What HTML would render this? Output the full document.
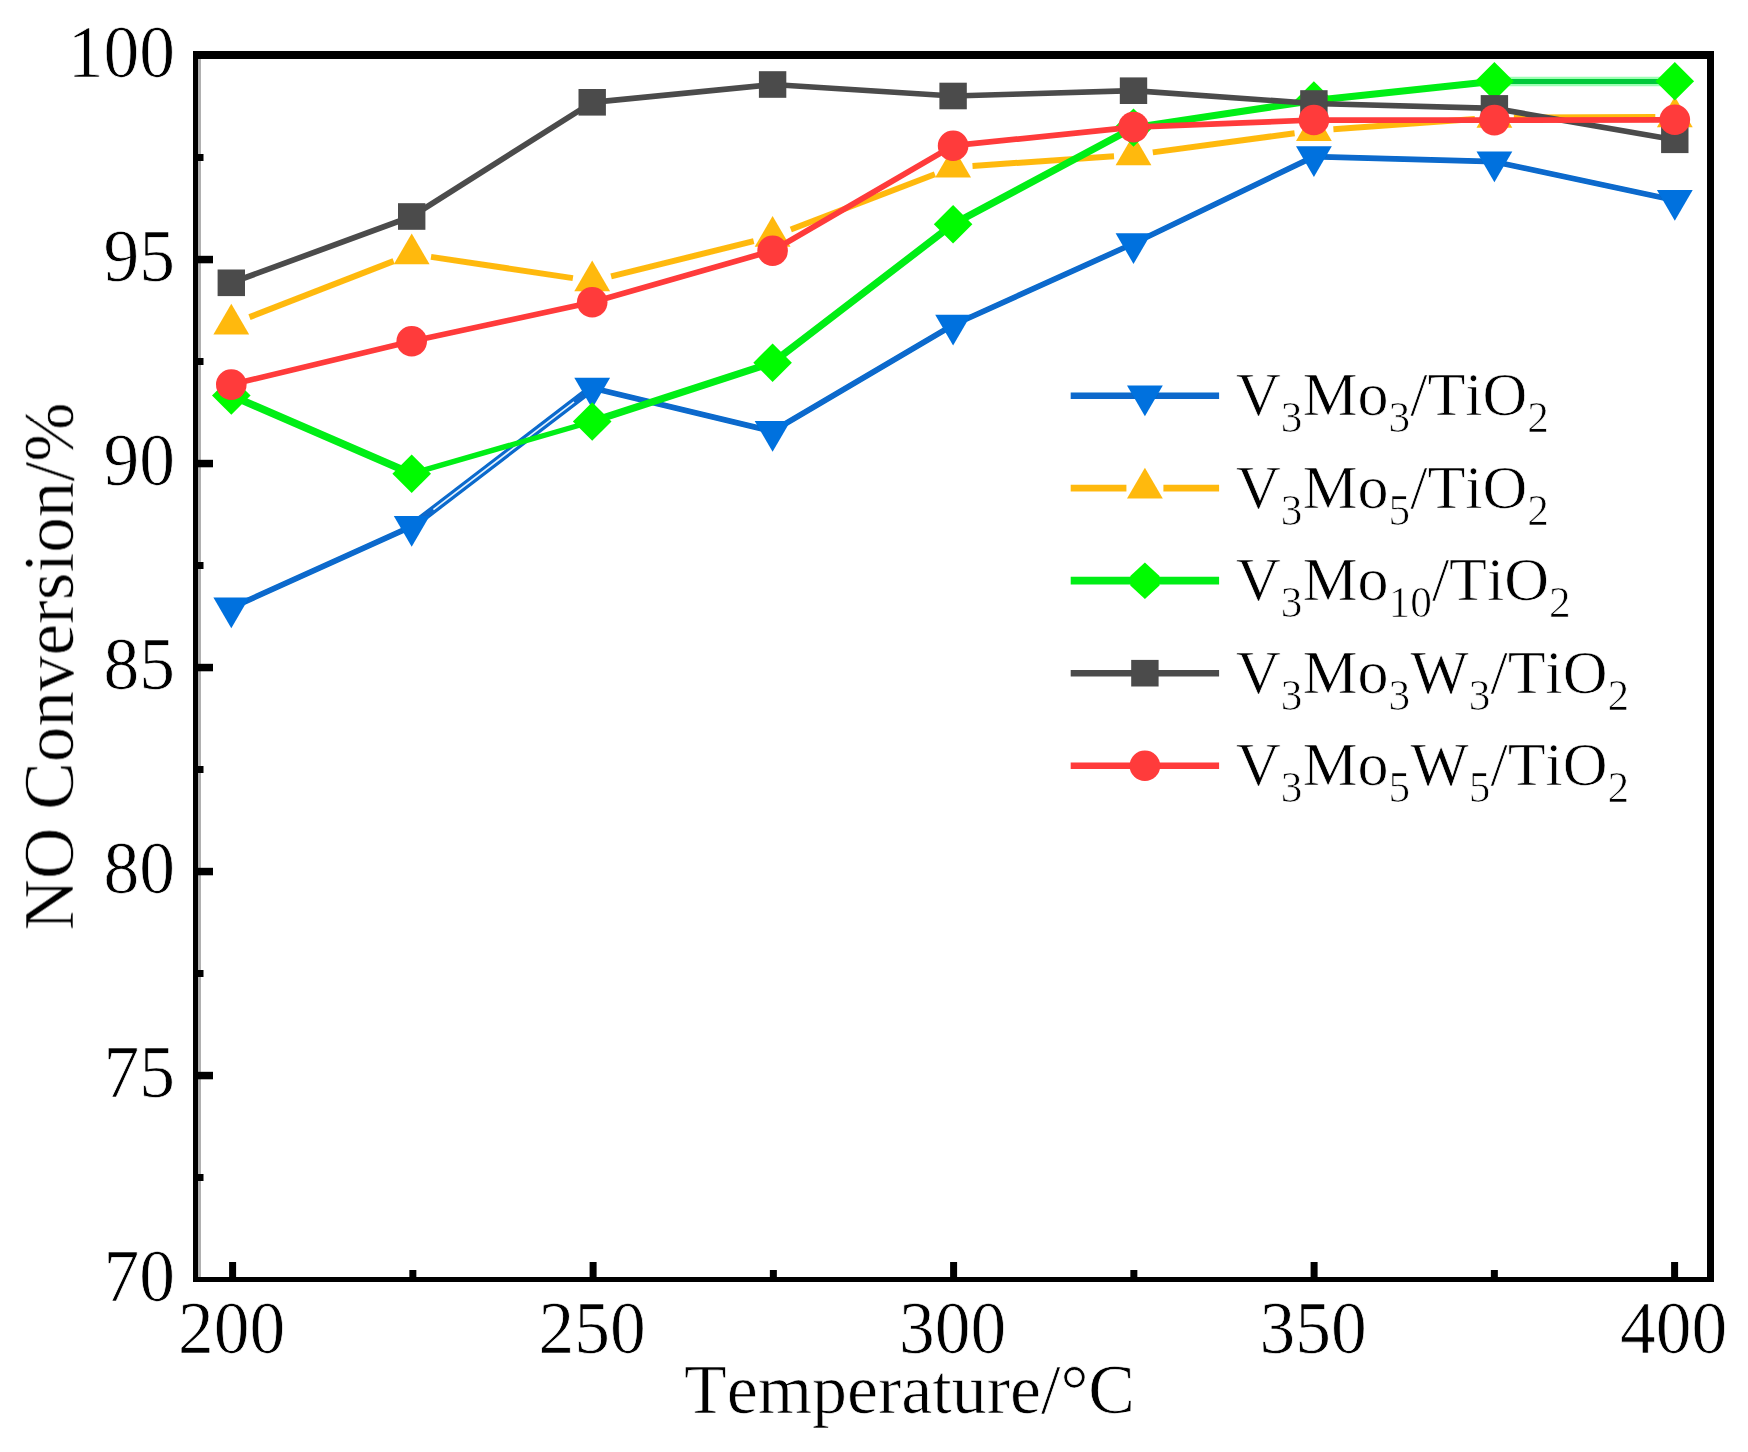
<!DOCTYPE html>
<html><head><meta charset="utf-8"><title>NO Conversion vs Temperature</title>
<style>
html,body{margin:0;padding:0;background:#fff;}
body{width:1748px;height:1452px;overflow:hidden;}
svg{display:block;}
text{font-family:"Liberation Serif","Times New Roman",serif;fill:#000;stroke:#fff;stroke-width:0.7px;font-kerning:none;font-variant-ligatures:none;}
.tk{font-size:71.5px;}
.lg{font-size:62px;}
.sb{font-size:43.3px;}
</style></head><body>
<svg width="1748" height="1452" viewBox="0 0 1748 1452">
<rect width="1748" height="1452" fill="#fff"/>
<defs><filter id="soft" x="-2%" y="-2%" width="104%" height="104%"><feGaussianBlur stdDeviation="0.7"/></filter><filter id="softt" x="-2%" y="-2%" width="104%" height="104%"><feGaussianBlur stdDeviation="0.45"/></filter></defs>
<g id="series" filter="url(#soft)">
<g class="blue">
<polyline points="231.3,607.8 411.7,526.3 592.2,388.0 772.6,431.3 953.1,325.0 1133.5,243.5 1313.9,156.6 1494.4,161.7 1674.8,200.2" fill="none" stroke="#0769cc" stroke-width="5.7" stroke-linejoin="round"/>
<line x1="411.7" y1="526.3" x2="592.2" y2="388.0" stroke="#0769cc" stroke-width="8"/>
<line x1="433.4" y1="509.7" x2="574.1" y2="401.8" stroke="#e4f3ff" stroke-width="1.7"/>
<polygon points="213.4,597.5 249.2,597.5 231.3,628.3" fill="#0571de"/>
<polygon points="393.8,516.0 429.6,516.0 411.7,546.8" fill="#0571de"/>
<polygon points="574.3,377.7 610.1,377.7 592.2,408.5" fill="#0571de"/>
<polygon points="754.7,421.0 790.5,421.0 772.6,451.8" fill="#0571de"/>
<polygon points="935.2,314.7 971.0,314.7 953.1,345.5" fill="#0571de"/>
<polygon points="1115.6,233.2 1151.4,233.2 1133.5,264.0" fill="#0571de"/>
<polygon points="1296.0,146.3 1331.8,146.3 1313.9,177.1" fill="#0571de"/>
<polygon points="1476.5,151.4 1512.3,151.4 1494.4,182.2" fill="#0571de"/>
<polygon points="1656.9,189.9 1692.7,189.9 1674.8,220.7" fill="#0571de"/>
</g>
<g class="yellow">
<line x1="249.5" y1="317.1" x2="393.6" y2="261.1" stroke="#ffb90f" stroke-width="6.0"/>
<line x1="431.0" y1="256.9" x2="572.9" y2="278.1" stroke="#ffb90f" stroke-width="6.0"/>
<line x1="611.1" y1="276.3" x2="753.7" y2="241.2" stroke="#ffb90f" stroke-width="6.0"/>
<line x1="790.8" y1="229.5" x2="934.9" y2="174.2" stroke="#ffb90f" stroke-width="6.0"/>
<line x1="972.5" y1="165.9" x2="1114.0" y2="156.3" stroke="#ffb90f" stroke-width="6.0"/>
<line x1="1152.8" y1="152.4" x2="1294.6" y2="133.2" stroke="#ffb90f" stroke-width="6.0"/>
<line x1="1333.4" y1="129.2" x2="1474.9" y2="118.9" stroke="#ffb90f" stroke-width="6.0"/>
<line x1="1513.9" y1="117.4" x2="1655.3" y2="117.1" stroke="#ffb90f" stroke-width="6.0"/>
<polygon points="213.4,334.5 249.2,334.5 231.3,303.7" fill="#ffb90f"/>
<polygon points="393.8,264.3 429.6,264.3 411.7,233.5" fill="#ffb90f"/>
<polygon points="574.3,291.3 610.1,291.3 592.2,260.5" fill="#ffb90f"/>
<polygon points="754.7,246.8 790.5,246.8 772.6,216.0" fill="#ffb90f"/>
<polygon points="935.2,177.5 971.0,177.5 953.1,146.7" fill="#ffb90f"/>
<polygon points="1115.6,165.3 1151.4,165.3 1133.5,134.5" fill="#ffb90f"/>
<polygon points="1296.0,140.9 1331.8,140.9 1313.9,110.1" fill="#ffb90f"/>
<polygon points="1476.5,127.8 1512.3,127.8 1494.4,97.0" fill="#ffb90f"/>
<polygon points="1656.9,127.3 1692.7,127.3 1674.8,96.5" fill="#ffb90f"/>
</g>
<g class="green">
<line x1="231.3" y1="395.6" x2="411.7" y2="473.7" stroke="#00ee14" stroke-width="7.5" stroke-linecap="round"/>
<line x1="411.7" y1="473.7" x2="592.2" y2="421.5" stroke="#00ee14" stroke-width="5.4" stroke-linecap="round"/>
<line x1="592.2" y1="421.5" x2="772.6" y2="362.7" stroke="#00ee14" stroke-width="7.2" stroke-linecap="round"/>
<line x1="772.6" y1="362.7" x2="953.1" y2="224.2" stroke="#00ee14" stroke-width="7.2" stroke-linecap="round"/>
<line x1="953.1" y1="224.2" x2="1133.5" y2="127.6" stroke="#00ee14" stroke-width="7.2" stroke-linecap="round"/>
<line x1="1133.5" y1="127.6" x2="1313.9" y2="100.5" stroke="#00ee14" stroke-width="7.0" stroke-linecap="round"/>
<line x1="1313.9" y1="100.5" x2="1494.4" y2="81.2" stroke="#00ee14" stroke-width="7.0" stroke-linecap="round"/>
<line x1="1494.4" y1="81.5" x2="1674.8" y2="81.5" stroke="#9dffb4" stroke-width="9.6"/>
<line x1="1494.4" y1="81.5" x2="1674.8" y2="81.5" stroke="#00c93a" stroke-width="5.2"/>
<polygon points="212.0,395.6 231.3,376.4 250.6,395.6 231.3,414.8" fill="#00fb05"/>
<polygon points="392.4,473.7 411.7,454.5 431.0,473.7 411.7,492.9" fill="#00fb05"/>
<polygon points="572.9,421.5 592.2,402.3 611.5,421.5 592.2,440.7" fill="#00fb05"/>
<polygon points="753.3,362.7 772.6,343.5 791.9,362.7 772.6,381.9" fill="#00fb05"/>
<polygon points="933.8,224.2 953.1,205.0 972.4,224.2 953.1,243.4" fill="#00fb05"/>
<polygon points="1114.2,127.6 1133.5,108.4 1152.8,127.6 1133.5,146.8" fill="#00fb05"/>
<polygon points="1294.6,100.5 1313.9,81.3 1333.2,100.5 1313.9,119.7" fill="#00fb05"/>
<polygon points="1475.1,81.2 1494.4,62.0 1513.7,81.2 1494.4,100.4" fill="#00fb05"/>
<polygon points="1655.5,81.2 1674.8,62.0 1694.1,81.2 1674.8,100.4" fill="#00fb05"/>
</g>
<g class="dark">
<polyline points="231.3,282.8 411.7,216.5 592.2,102.3 772.6,84.5 953.1,96.0 1133.5,90.7 1313.9,103.5 1494.4,108.4 1674.8,139.8" fill="none" stroke="#4b4b4b" stroke-width="5.7" stroke-linejoin="round"/>
<rect x="217.6" y="269.5" width="27.4" height="26.6" fill="#4b4b4b"/>
<rect x="398.0" y="203.2" width="27.4" height="26.6" fill="#4b4b4b"/>
<rect x="578.5" y="89.0" width="27.4" height="26.6" fill="#4b4b4b"/>
<rect x="758.9" y="71.2" width="27.4" height="26.6" fill="#4b4b4b"/>
<rect x="939.4" y="82.7" width="27.4" height="26.6" fill="#4b4b4b"/>
<rect x="1119.8" y="77.4" width="27.4" height="26.6" fill="#4b4b4b"/>
<rect x="1300.2" y="90.2" width="27.4" height="26.6" fill="#4b4b4b"/>
<rect x="1480.7" y="95.1" width="27.4" height="26.6" fill="#4b4b4b"/>
<rect x="1661.1" y="126.5" width="27.4" height="26.6" fill="#4b4b4b"/>
</g>
<g class="red">
<polyline points="231.3,384.6 411.7,341.2 592.2,302.3 772.6,250.7 953.1,145.7 1133.5,127.1 1313.9,120.0 1494.4,120.1 1674.8,119.8" fill="none" stroke="#ff3a3a" stroke-width="5.7" stroke-linejoin="round"/>
<circle cx="231.3" cy="384.6" r="15.3" fill="#ff3a3a"/>
<circle cx="411.7" cy="341.2" r="15.3" fill="#ff3a3a"/>
<circle cx="592.2" cy="302.3" r="15.3" fill="#ff3a3a"/>
<circle cx="772.6" cy="250.7" r="15.3" fill="#ff3a3a"/>
<circle cx="953.1" cy="145.7" r="15.3" fill="#ff3a3a"/>
<circle cx="1133.5" cy="127.1" r="15.3" fill="#ff3a3a"/>
<circle cx="1313.9" cy="120.0" r="15.3" fill="#ff3a3a"/>
<circle cx="1494.4" cy="120.1" r="15.3" fill="#ff3a3a"/>
<circle cx="1674.8" cy="119.8" r="15.3" fill="#ff3a3a"/>
</g>
</g>
<g id="axes" fill="#000">
<rect x="193" y="51" width="1521" height="8"/>
<rect x="193" y="1277" width="1521" height="5"/>
<rect x="193" y="51" width="5" height="1231"/>
<rect x="198" y="59" width="3" height="1218" fill="#b0b0b0"/>
<rect x="1707" y="51" width="7" height="1231"/>
<rect x="198" y="255.8" width="15" height="7.5"/>
<rect x="198" y="459.8" width="15" height="7.5"/>
<rect x="198" y="663.8" width="15" height="7.5"/>
<rect x="198" y="867.8" width="15" height="7.5"/>
<rect x="198" y="1071.8" width="15" height="7.5"/>
<rect x="198" y="154.0" width="5.5" height="7"/>
<rect x="198" y="358.0" width="5.5" height="7"/>
<rect x="198" y="562.0" width="5.5" height="7"/>
<rect x="198" y="766.0" width="5.5" height="7"/>
<rect x="198" y="970.0" width="5.5" height="7"/>
<rect x="198" y="1174.0" width="5.5" height="7"/>
<rect x="229.10" y="1262" width="7" height="16"/>
<rect x="589.60" y="1262" width="7" height="16"/>
<rect x="950.10" y="1262" width="7" height="16"/>
<rect x="1310.60" y="1262" width="7" height="16"/>
<rect x="1671.10" y="1262" width="7" height="16"/>
<rect x="409.35" y="1270" width="7" height="8"/>
<rect x="769.85" y="1270" width="7" height="8"/>
<rect x="1130.35" y="1270" width="7" height="8"/>
<rect x="1490.85" y="1270" width="7" height="8"/>
</g>
<g id="ticklabels" class="tk" filter="url(#softt)">
<text transform="translate(175,76.8) scale(1,1.035)" text-anchor="end">100</text>
<text transform="translate(175,280.8) scale(1,1.035)" text-anchor="end">95</text>
<text transform="translate(175,484.8) scale(1,1.035)" text-anchor="end">90</text>
<text transform="translate(175,688.8) scale(1,1.035)" text-anchor="end">85</text>
<text transform="translate(175,892.8) scale(1,1.035)" text-anchor="end">80</text>
<text transform="translate(175,1096.8) scale(1,1.035)" text-anchor="end">75</text>
<text transform="translate(175,1300.8) scale(1,1.035)" text-anchor="end">70</text>
<text transform="translate(231.6,1353.4) scale(1,1.035)" text-anchor="middle">200</text>
<text transform="translate(592.1,1353.4) scale(1,1.035)" text-anchor="middle">250</text>
<text transform="translate(952.6,1353.4) scale(1,1.035)" text-anchor="middle">300</text>
<text transform="translate(1313.1,1353.4) scale(1,1.035)" text-anchor="middle">350</text>
<text transform="translate(1673.6,1353.4) scale(1,1.035)" text-anchor="middle">400</text>
</g>
<g id="titles" filter="url(#softt)">
<text class="tk" x="909.5" y="1412.8" text-anchor="middle" style="font-size:69.9px">Temperature/°C</text>
<text class="tk" transform="translate(73,666.5) rotate(-90)" text-anchor="middle" style="font-size:71.2px">NO Conversion/%</text>
</g>
<g id="legend" filter="url(#soft)">
<line x1="1070.7" y1="395.7" x2="1219.1" y2="395.7" stroke="#0769cc" stroke-width="6.4"/>
<polygon points="1127.0,385.4 1162.8,385.4 1144.9,416.2" fill="#0571de"/>
<text class="lg" x="1236" y="415.3"><tspan>V</tspan><tspan class="sb" dy="16.7">3</tspan><tspan dy="-16.7">Mo</tspan><tspan class="sb" dy="16.7">3</tspan><tspan dy="-16.7">/TiO</tspan><tspan class="sb" dy="16.7">2</tspan></text>
<line x1="1070.7" y1="488.2" x2="1126.4" y2="488.2" stroke="#ffb90f" stroke-width="6.7"/>
<line x1="1163.4" y1="488.2" x2="1219.1" y2="488.2" stroke="#ffb90f" stroke-width="6.7"/>
<polygon points="1127.0,498.5 1162.8,498.5 1144.9,467.7" fill="#ffb90f"/>
<text class="lg" x="1236" y="507.8"><tspan>V</tspan><tspan class="sb" dy="16.7">3</tspan><tspan dy="-16.7">Mo</tspan><tspan class="sb" dy="16.7">5</tspan><tspan dy="-16.7">/TiO</tspan><tspan class="sb" dy="16.7">2</tspan></text>
<line x1="1070.7" y1="580.7" x2="1219.1" y2="580.7" stroke="#00ee14" stroke-width="7.7"/>
<polygon points="1130.3,576.0 1144.9,562.5 1159.5,576.0 1159.5,585.4 1144.9,598.9 1130.3,585.4" fill="#00fb05"/>
<text class="lg" x="1236" y="600.3"><tspan>V</tspan><tspan class="sb" dy="16.7">3</tspan><tspan dy="-16.7">Mo</tspan><tspan class="sb" dy="16.7">10</tspan><tspan dy="-16.7">/TiO</tspan><tspan class="sb" dy="16.7">2</tspan></text>
<line x1="1070.7" y1="673.2" x2="1219.1" y2="673.2" stroke="#4b4b4b" stroke-width="6.4"/>
<rect x="1131.2" y="659.9" width="27.4" height="26.6" fill="#4b4b4b"/>
<text class="lg" x="1236" y="692.8"><tspan>V</tspan><tspan class="sb" dy="16.7">3</tspan><tspan dy="-16.7">Mo</tspan><tspan class="sb" dy="16.7">3</tspan><tspan dy="-16.7">W</tspan><tspan class="sb" dy="16.7">3</tspan><tspan dy="-16.7">/TiO</tspan><tspan class="sb" dy="16.7">2</tspan></text>
<line x1="1070.7" y1="765.7" x2="1219.1" y2="765.7" stroke="#ff3a3a" stroke-width="6.4"/>
<circle cx="1144.9" cy="765.7" r="15.3" fill="#ff3a3a"/>
<text class="lg" x="1236" y="785.3"><tspan>V</tspan><tspan class="sb" dy="16.7">3</tspan><tspan dy="-16.7">Mo</tspan><tspan class="sb" dy="16.7">5</tspan><tspan dy="-16.7">W</tspan><tspan class="sb" dy="16.7">5</tspan><tspan dy="-16.7">/TiO</tspan><tspan class="sb" dy="16.7">2</tspan></text>
</g>
</svg></body></html>
